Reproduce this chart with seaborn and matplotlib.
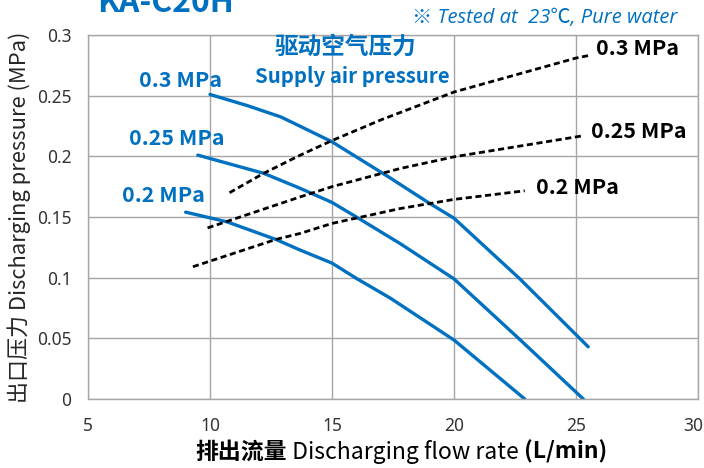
import pandas as pd
import matplotlib
matplotlib.use("Agg")
import matplotlib.pyplot as plt
import matplotlib.transforms as mtransforms
import seaborn as sns
from matplotlib import font_manager

# Pump curves (discharging pressure vs flow), one per supply air pressure
flow_03 = [10.0, 11.5, 12.9, 13.6, 15.0, 17.4, 18.9, 20.0, 22.7, 25.0, 25.5]
pres_03 = [0.251, 0.242, 0.2325, 0.2257, 0.212, 0.182, 0.1625, 0.149, 0.099, 0.053, 0.043]
flow_025 = [9.5, 12.2, 13.7, 15.0, 16.0, 17.8, 20.0, 22.7, 25.3]
pres_025 = [0.201, 0.186, 0.1736, 0.162, 0.150, 0.128, 0.099, 0.049, 0.0]
flow_02 = [9.0, 10.7, 12.7, 13.7, 15.0, 16.0, 17.4, 20.0, 22.9]
pres_02 = [0.154, 0.146, 0.1315, 0.1227, 0.112, 0.0994, 0.083, 0.0486, 0.0]

# Air consumption lines (dashed)
air_flow_03 = [10.8, 12.2, 13.7, 15.0, 17.0, 20.0, 25.0, 25.5]
air_pres_03 = [0.170, 0.186, 0.201, 0.213, 0.230, 0.253, 0.281, 0.283]
air_flow_025 = [9.9, 13.7, 15.0, 17.8, 20.0, 25.0, 25.3]
air_pres_025 = [0.141, 0.1666, 0.175, 0.190, 0.1996, 0.216, 0.217]
air_flow_02 = [9.3, 12.7, 13.7, 15.0, 17.8, 20.0, 22.9]
air_pres_02 = [0.109, 0.1315, 0.1365, 0.1447, 0.157, 0.1645, 0.1716]

supply_labels = ["0.3 MPa", "0.25 MPa", "0.2 MPa"]
x_ticks = [5, 10, 15, 20, 25, 30]
y_ticks = [0, 0.05, 0.1, 0.15, 0.2, 0.25, 0.3]

BLUE = "#0070C0"

def long_frame(flows, pressures, labels):
    rows = []
    for f, p, lab in zip(flows, pressures, labels):
        for i, (xx, yy) in enumerate(zip(f, p)):
            rows.append({"flow": xx, "pressure": yy, "supply": lab, "order": i})
    return pd.DataFrame(rows)

pump_df = long_frame([flow_03, flow_025, flow_02], [pres_03, pres_025, pres_02], supply_labels)
air_df = long_frame([air_flow_03, air_flow_025, air_flow_02],
                    [air_pres_03, air_pres_025, air_pres_02], supply_labels)

sns.set_style("white")
installed = {f.name for f in font_manager.fontManager.ttflist}
narrow = "Liberation Sans Narrow" if "Liberation Sans Narrow" in installed else "Noto Sans"
cjk = ["Noto Sans CJK SC", "DejaVu Sans"]
plt.rcParams["font.family"] = cjk

fig = plt.figure(figsize=(7.04, 4.68), dpi=100)
ax = fig.add_axes([88 / 704, 1 - 399 / 468, 610 / 704, 364 / 468])

sns.lineplot(data=pump_df, x="flow", y="pressure", units="supply", estimator=None,
             sort=False, color=BLUE, linewidth=2.4, ax=ax)
sns.lineplot(data=air_df, x="flow", y="pressure", units="supply", estimator=None,
             sort=False, color="black", linewidth=2.0, ax=ax, dashes=False)
for line in ax.lines[3:]:
    line.set_dashes((2.2, 1.3))
for line in ax.lines:
    line.set_solid_joinstyle("round")

ax.set_xlim(5, 30)
ax.set_ylim(0, 0.3)
ax.set_xticks(x_ticks)
ax.set_yticks(y_ticks)
ax.set_xticklabels([str(t) for t in x_ticks], family=narrow, fontsize=12.5, color="#333333")
ax.set_yticklabels([f"{t:g}" for t in y_ticks], family=narrow, fontsize=12.5, color="#333333")
ax.tick_params(axis="x", length=0, pad=13)
ax.tick_params(axis="y", length=0, pad=12)
# nudge the last x label so it stays inside the figure
last = ax.get_xticklabels()[-1]
last.set_transform(last.get_transform() + mtransforms.ScaledTranslation(-5 / 100, 0, fig.dpi_scale_trans))
ax.grid(True, color="#A6A6A6", linewidth=1.0)
ax.set_axisbelow(True)
for s in ax.spines.values():
    s.set_color("#A6A6A6")
    s.set_linewidth(1.0)
ax.set_xlabel("")
ax.set_ylabel("出口压力 Discharging pressure (MPa)", family=["Noto Sans CJK SC", narrow],
              fontsize=15.8, labelpad=4)

# curve labels
left_pos = [(8.81, 0.2628), (8.65, 0.215), (8.11, 0.168)]
for lab, (lx, ly) in zip(supply_labels, left_pos):
    ax.text(lx, ly, lab, color=BLUE, fontsize=15.5, fontweight="bold", ha="center", va="center")
right_pos = [(25.8, 0.289), (25.6, 0.2208), (23.35, 0.1746)]
for lab, (lx, ly) in zip(supply_labels, right_pos):
    ax.text(lx, ly, lab, color="black", fontsize=15.5, fontweight="bold", ha="left", va="center")

ax.text(15.54, 0.290, "驱动空气压力", color=BLUE, fontsize=17, fontweight="bold",
        ha="center", va="center")
ax.text(15.83, 0.2655, "Supply air pressure", color=BLUE, fontsize=14.7, fontweight="bold",
        ha="center", va="center")

# header texts
fig.text(97 / 704, 1 - 12 / 468, "KA-C20H", color=BLUE, fontsize=23, fontweight="bold",
         ha="left", va="baseline")
fig.text(677 / 704, 1 - 18 / 468, "※ Tested at  23℃, Pure water", color=BLUE,
         fontsize=14.5, style="italic", family=["Open Sans", "Noto Sans CJK SC", "DejaVu Sans"],
         ha="right", va="center")

# x label with mixed weights
fig.canvas.draw()
renderer = fig.canvas.get_renderer()
parts = [("排出流量", "bold", ["Noto Sans CJK SC", "DejaVu Sans"]),
         (" Discharging flow rate ", "normal", ["Noto Sans CJK SC", narrow]),
         ("(L/min)", "bold", ["Noto Sans CJK SC", "DejaVu Sans"])]
texts = []
for s, w, fam in parts:
    t = fig.text(0, 1 - 452 / 468, s, fontsize=16.5, fontweight=w, family=fam,
                 ha="left", va="center", color="black")
    texts.append(t)
widths = [t.get_window_extent(renderer).width for t in texts]
x0 = 401 - sum(widths) / 2
for t, w in zip(texts, widths):
    t.set_x(x0 / 704)
    x0 += w

fig.savefig("out.png", dpi=100)
